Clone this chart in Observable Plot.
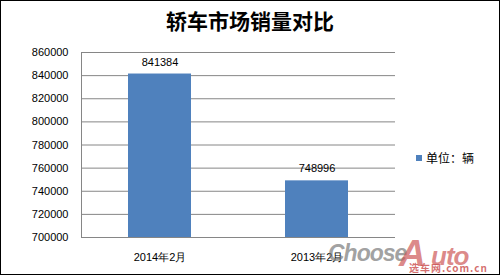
<!DOCTYPE html>
<html><head><meta charset="utf-8">
<script src="https://cdn.jsdelivr.net/npm/d3@7"></script>
<script src="https://cdn.jsdelivr.net/npm/@observablehq/plot@0.6"></script>
<style>
body{margin:0;background:#fff;}
#wrap{position:relative;width:500px;height:275px;box-sizing:border-box;border:1px solid #000;overflow:hidden;background:#fff;}
#title{position:absolute;top:4px;left:0;width:498px;text-align:center;font-family:"Noto Sans CJK SC",sans-serif;font-weight:bold;font-size:21px;color:#000;}
#chart{position:absolute;top:0;left:0;}
#legend{position:absolute;left:415px;top:148px;font-family:"Noto Sans CJK SC",sans-serif;font-size:12px;color:#000;display:flex;align-items:center;}
#legend span.sw{display:inline-block;width:6px;height:6px;background:#4F81BD;margin-right:4px;}
.wm{position:absolute;font-family:"Liberation Sans",Arial,sans-serif;font-style:italic;font-weight:bold;white-space:nowrap;line-height:1;}
#wmC{left:327px;top:241px;font-size:23px;color:rgba(120,120,120,0.7);letter-spacing:-1px;}
#wmA{left:398px;top:234px;font-size:37px;color:rgba(205,85,85,0.7);}
#wmU{left:430px;top:242px;font-size:26px;color:rgba(205,85,85,0.7);letter-spacing:-1px;}
#wm2{position:absolute;left:408px;top:262px;font-family:"Noto Sans CJK SC",sans-serif;font-weight:bold;font-size:10px;line-height:1;color:rgba(205,85,85,0.85);letter-spacing:1px;}
</style></head>
<body>
<div id="wrap">
<div id="title">轿车市场销量对比</div>
<div id="chart"></div>
<div id="legend"><span class="sw"></span>单位：辆</div>
<div class="wm" id="wmC">Choose</div>
<div class="wm" id="wmA">A</div>
<div class="wm" id="wmU">uto</div>
<div id="wm2">选车网.com.cn</div>
</div>
<script>
const categories = ["2014年2月", "2013年2月"];
const values = [841384, 748996];
const yTicks = [700000, 720000, 740000, 760000, 780000, 800000, 820000, 840000, 860000];

const data = categories.map((c, i) => ({cat: c, value: values[i]}));
const yMin = yTicks[0];

const chart = Plot.plot({
  width: 498,
  height: 273,
  marginLeft: 80,
  marginRight: 104,
  marginTop: 51,
  marginBottom: 37,
  style: {fontFamily: "Liberation Sans, Arial, sans-serif", fontSize: "11px", color: "#000", background: "transparent"},
  x: {domain: categories, paddingInner: 0.6, paddingOuter: 0.3, label: null, axis: null},
  y: {domain: [yTicks[0], yTicks[yTicks.length - 1]], label: null, axis: null},
  marks: [
    Plot.ruleY(yTicks, {stroke: "#868686", strokeWidth: 1}),
    Plot.frame({anchor: "left", stroke: "#868686"}),
    Plot.barY(data, {x: "cat", y1: yMin, y2: "value", fill: "#4F81BD"}),
    Plot.text(data, {x: "cat", y: "value", text: d => String(d.value), dy: -12, fontSize: 11, fill: "#000"}),
    Plot.axisY({ticks: yTicks, tickFormat: d => String(d), tickSize: 0, tickPadding: 13, fontSize: 11}),
    Plot.axisX({tickSize: 0, tickPadding: 16, fontSize: 11, label: null})
  ]
});
document.getElementById("chart").appendChild(chart);
</script>
</body></html>
